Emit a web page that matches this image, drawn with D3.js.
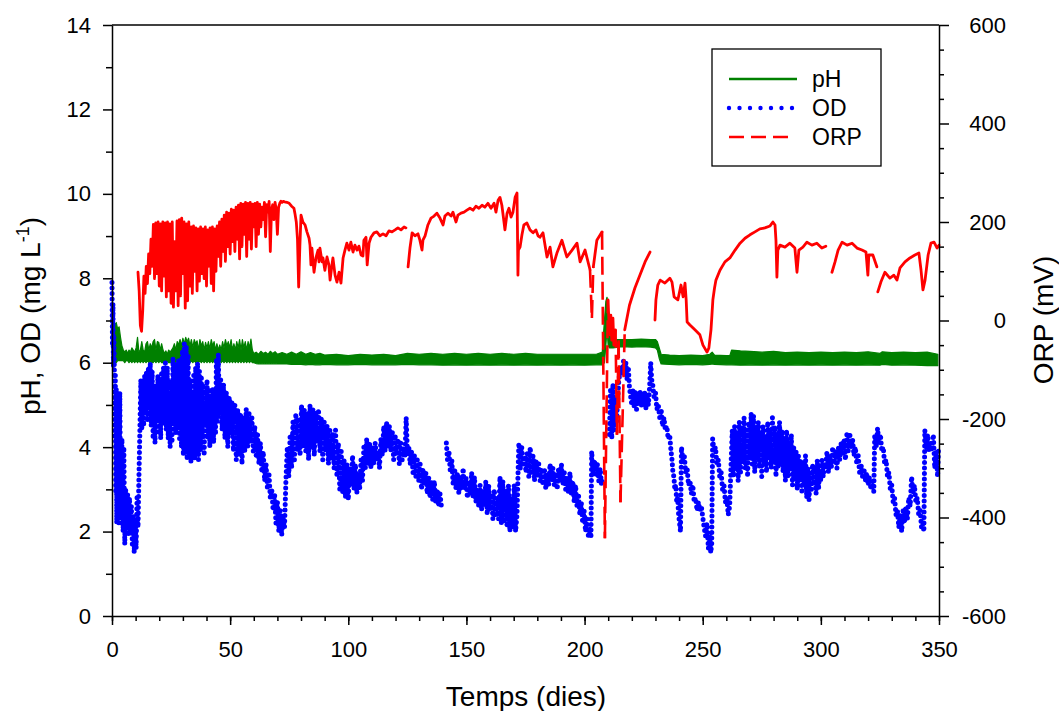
<!DOCTYPE html>
<html><head><meta charset="utf-8">
<script src="https://cdn.jsdelivr.net/npm/d3@7/dist/d3.min.js"></script>
<style>body{margin:0;background:#fff}svg{display:block;font-family:"Liberation Sans",Arial,sans-serif}</style>
</head><body><svg id="c" width="1059" height="711"></svg>
<script>
// ---------- tick labels ----------
const dayTicks = [0,50,100,150,200,250,300,350];
const leftTicks = [0,2,4,6,8,10,12,14];
const rightTicks = [-600,-400,-200,0,200,400,600];
const seriesNames = ["pH","OD","ORP"];

// ---------- pH : [day, min, max] (band of the noisy trace) ----------
const phData = [
[0.2,6.0,6.6],[0.6,6.0,7.0],[1.2,6.0,6.9],[1.8,6.0,6.95],[2.4,6.05,6.8],[3.0,6.05,6.85],[3.6,6.05,6.6],[4.2,6.05,6.4],[4.8,6.05,6.3],[5.4,6.0,6.25],[6.0,6.05,6.3],[6.6,6.05,6.22],[7.2,6.0,6.3],[7.8,6.05,6.25],[8.4,6.0,6.35],[9.0,6.05,6.3],[9.6,6.0,6.25],[10.2,6.05,6.35],[10.8,6.0,6.6],[11.4,6.05,6.25],[12.0,6.0,6.3],[12.6,6.05,6.5],[13.2,6.0,6.3],[13.8,6.05,6.25],[14.4,6.0,6.45],[15.0,6.05,6.5],[15.6,6.0,6.3],[16.2,6.05,6.45],[16.8,6.0,6.35],[17.4,6.0,6.5],[18.0,6.05,6.55],[18.6,6.0,6.3],[19.2,6.05,6.5],[19.8,6.0,6.48],[20.4,6.05,6.3],[21.0,6.0,6.45],[21.6,6.0,6.3],[22.2,6.05,6.22],[22.8,6.0,6.28],[23.4,6.05,6.2],[24.0,6.0,6.3],[24.6,6.0,6.25],[25.2,6.05,6.3],[25.8,6.0,6.35],[26.4,6.05,6.45],[27.0,6.0,6.3],[27.6,6.05,6.5],[28.2,6.0,6.42],[28.8,6.05,6.55],[29.4,6.0,6.4],[30.0,6.05,6.58],[30.6,6.0,6.45],[31.2,6.05,6.6],[31.8,6.0,6.5],[32.4,6.05,6.58],[33.0,6.0,6.4],[33.6,6.05,6.55],[34.2,6.0,6.35],[34.8,6.05,6.55],[35.4,6.0,6.45],[36.0,6.05,6.52],[36.6,6.0,6.3],[37.2,6.05,6.55],[37.8,6.0,6.4],[38.4,6.05,6.5],[39.0,6.0,6.3],[39.6,6.05,6.48],[40.2,6.0,6.35],[40.8,6.05,6.5],[41.4,6.0,6.32],[42.0,6.05,6.55],[42.6,6.0,6.4],[43.2,6.05,6.5],[43.8,6.0,6.3],[44.4,6.05,6.45],[45.0,6.0,6.3],[45.6,6.05,6.42],[46.2,6.0,6.3],[46.8,6.05,6.5],[47.4,6.0,6.35],[48.0,6.05,6.55],[48.6,6.0,6.4],[49.2,6.05,6.5],[49.8,6.0,6.35],[50.4,6.05,6.55],[51.0,6.0,6.3],[51.6,6.05,6.45],[52.2,6.0,6.3],[52.8,6.05,6.5],[53.4,6.0,6.35],[54.0,6.05,6.55],[54.6,6.0,6.3],[55.2,6.05,6.55],[55.8,6.0,6.35],[56.4,6.05,6.5],[57.0,6.0,6.3],[57.6,6.05,6.5],[58.2,6.0,6.35],[58.8,6.05,6.56],[59.4,6.0,6.3],[60.0,6.0,6.22],[61,5.98,6.25],[62,5.97,6.2],[63,5.98,6.27],[64,5.97,6.22],[65,5.98,6.25],[66,5.97,6.2],[67,5.98,6.27],[68,5.97,6.22],[69,5.98,6.26],[70,5.97,6.2],[72,5.97,6.24],[74,5.97,6.2],[76,5.96,6.25],[78,5.96,6.2],[80,5.96,6.26],[82,5.95,6.2],[84,5.96,6.24],[86,5.95,6.2],[88,5.95,6.22],[90,5.96,6.18],[95,5.95,6.2],[100,5.95,6.17],[105,5.96,6.2],[110,5.95,6.18],[115,5.95,6.2],[120,5.95,6.17],[125,5.96,6.22],[130,5.95,6.2],[135,5.95,6.22],[140,5.94,6.2],[145,5.95,6.22],[150,5.94,6.2],[155,5.95,6.22],[160,5.94,6.2],[165,5.95,6.22],[170,5.94,6.2],[175,5.95,6.22],[180,5.94,6.2],[185,5.95,6.2],[190,5.94,6.2],[195,5.95,6.2],[200,5.94,6.2],[205,5.95,6.2],[207.5,5.95,6.25],[208.4,6.0,7.0],[209.0,6.4,7.45],[209.5,6.8,7.55],[210.0,6.4,7.3],[210.6,6.35,6.8],[211.3,6.35,6.55],[212,6.35,6.55],[216,6.38,6.55],[220,6.37,6.55],[224,6.38,6.56],[228,6.37,6.55],[230,6.35,6.55],[230.8,6.3,6.5],[231.6,6.1,6.35],[232.4,5.97,6.2],[236,5.96,6.18],[240,5.95,6.17],[245,5.96,6.18],[250,5.95,6.17],[253,5.96,6.2],[254,5.97,6.25],[255,5.96,6.18],[260,5.95,6.17],[261.5,5.95,6.17],[262.2,5.95,6.3],[266,5.94,6.28],[270,5.95,6.27],[275,5.94,6.25],[280,5.95,6.27],[285,5.94,6.24],[290,5.95,6.25],[295,5.94,6.24],[300,5.95,6.25],[305,5.94,6.24],[310,5.95,6.25],[315,5.94,6.24],[320,5.95,6.26],[325,5.94,6.22],[326,5.96,6.26],[330,5.94,6.24],[335,5.95,6.25],[340,5.94,6.24],[345,5.93,6.25],[349.5,5.93,6.2]
];

// ---------- OD (mg/L) : [day, value] ----------
const odData = [
[0,7.9],[0.2,6.4],[0.4,7.4],[0.6,5.9],[0.8,6.6],[1.0,5.8],[1.2,4.2],[1.4,5.7],[1.6,2.9],[1.8,5.4],[2.0,2.2],[2.2,5.0],[2.4,2.4],[2.6,4.4],[2.9,2.2],[3.3,5.3],[3.7,2.3],[4.2,4.2],[4.7,2.0],[5.0,4.0],[5.4,1.7],[5.8,3.0],[6.2,2.2],[6.6,2.9],[7.0,1.9],[7.4,2.8],[7.8,2.0],[8.2,2.6],[8.6,1.7],[9.0,2.4],[9.4,1.5],[9.8,2.3],[10.2,1.6],[10.6,2.8],[11.0,2.1],[11.4,3.3],[11.8,4.4],[12.2,5.6],
[12.6,4.4],[13.0,5.5],[13.4,4.5],[13.8,5.7],[14.2,4.8],[14.6,5.8],[15.0,4.6],[15.4,5.9],[15.8,4.9],[16.2,6.0],[16.6,4.5],[17.0,5.8],[17.4,4.2],[17.8,5.5],[18.2,4.1],[18.6,5.4],[19.0,4.6],[19.4,5.7],[19.8,4.3],[20.2,5.6],[20.6,4.2],[21.0,5.8],[21.4,4.5],[21.8,5.9],[22.2,4.6],[22.6,6.0],[23.0,4.4],[23.4,5.9],[23.8,4.2],[24.2,5.6],[24.6,4.0],[25.0,5.2],[25.4,4.1],[25.8,6.1],[26.2,4.6],[26.6,5.9],[27.0,4.3],[27.4,6.0],[27.8,4.5],[28.2,6.1],[28.6,4.2],[29.0,6.1],[29.4,4.0],[29.8,6.3],[30.2,3.8],[30.6,6.45],[31.0,3.9],[31.4,6.4],[31.8,3.7],[32.2,6.2],[32.6,3.8],[33.0,5.6],[33.4,3.65],[33.8,5.3],[34.2,3.9],[34.6,5.7],[35.0,3.7],[35.4,5.9],[35.8,3.8],[36.2,6.0],[36.6,3.7],[37.0,5.8],[37.4,3.9],[37.8,5.7],[38.2,4.3],[38.6,5.5],[39.0,3.8],[39.4,5.3],[39.8,4.5],[40.2,5.6],[40.6,4.2],[41.0,5.4],[41.4,4.0],[41.8,5.2],[42.2,4.4],[42.6,5.4],[43.0,4.1],[43.4,5.0],[43.8,4.3],[44.2,6.1],[44.6,4.6],[45.0,6.2],[45.4,4.8],
[46.0,5.6],[46.6,4.4],[47.2,5.5],[47.8,4.2],[48.4,5.3],[49.0,4.0],[49.6,5.2],[50.2,4.3],[50.8,5.1],[51.4,3.9],[52.0,5.0],[52.6,3.7],[53.2,4.9],[53.8,3.8],[54.4,4.8],[55.0,3.6],[55.6,4.7],[56.2,3.9],[56.8,4.9],[57.4,4.0],[58.0,4.8],[58.6,4.1],[59.2,4.7],[59.8,3.9],[60.4,4.5],[61.0,3.8],[61.6,4.3],[62.2,3.6],[62.8,4.1],[63.4,3.4],[64.0,3.9],[64.6,3.2],[65.2,3.6],[65.8,3.0],[66.4,3.4],[67.0,2.8],[67.6,3.0],[68.2,2.5],[68.8,2.9],[69.4,2.2],[70.0,2.7],[70.6,2.0],[71.2,2.5],[71.8,1.9],[72.4,2.4],[73.0,2.1],
[73.6,3.2],[74.2,4.0],[74.8,3.3],[75.4,4.3],[76.0,3.5],[76.6,4.6],[77.2,3.7],[77.8,4.8],[78.4,3.9],[79.0,4.7],[79.6,3.8],[80.2,5.0],[80.8,4.0],[81.4,4.9],[82.0,3.9],[82.6,4.8],[83.2,3.7],[83.8,5.0],[84.4,4.0],[85.0,4.9],[85.6,3.8],[86.2,4.8],[86.8,4.1],[87.4,4.9],[88.0,3.9],[88.6,4.7],[89.2,3.7],[89.8,4.6],[90.4,3.9],[91.0,4.5],[91.6,3.6],[92.2,4.4],[92.8,3.7],[93.4,4.3],[94.0,3.5],[94.6,4.4],[95.2,3.3],[95.8,4.1],[96.4,3.0],[97.0,3.9],[97.6,2.9],[98.2,3.7],[98.8,2.8],[99.4,3.6],[100.0,2.75],[100.6,3.5],
[101.2,3.1],[101.8,3.8],[102.4,3.0],[103.0,3.6],[103.6,2.9],[104.2,3.4],[104.8,3.0],[105.4,3.7],[106.0,3.2],[106.6,4.0],[107.2,3.5],[107.8,4.2],[108.4,3.6],[109.0,4.1],[109.6,3.5],[110.2,4.0],[110.8,3.6],[111.4,4.1],[112.0,3.7],[112.6,3.9],[113.2,3.5],[113.8,4.2],[114.4,3.8],[115.0,4.5],[115.6,3.9],[116.2,4.6],[116.8,4.0],[117.4,4.5],[118.0,3.9],[118.6,4.4],[119.2,3.7],[119.8,4.3],[120.4,3.8],[121.0,4.2],[121.6,3.6],[122.2,4.1],[122.8,3.7],[123.4,4.0],[124.0,3.8],[124.5,4.7],[125.0,3.9],[125.6,4.0],[126.2,3.6],[126.8,3.9],[127.4,3.4],[128.0,3.8],[128.6,3.3],[129.2,3.7],[129.8,3.2],[130.4,3.6],[131.0,3.0],[131.6,3.5],[132.2,3.1],[132.8,3.4],[133.4,2.9],[134.0,3.3],[134.6,2.8],[135.2,3.2],[135.8,2.7],[136.4,3.2],[137.0,2.7],[137.6,3.0],[138.2,2.6],[138.8,2.9],[139.4,2.6],null,
[141.5,4.1],[142.0,3.7],[142.6,3.9],[143.2,3.4],[143.8,3.7],[144.4,3.1],[145.0,3.5],[145.6,3.0],[146.2,3.4],[146.8,2.9],[147.4,3.3],[148.0,3.0],[148.6,3.5],[149.2,3.0],[149.8,3.3],[150.4,2.8],[151.0,3.2],[151.6,2.9],[152.2,3.4],[152.8,2.8],[153.4,3.3],[154.0,2.7],[154.6,3.0],[155.2,2.6],[155.8,3.1],[156.4,2.5],[157.0,3.0],[157.6,2.6],[158.2,3.2],[158.8,2.4],[159.4,3.1],[160.0,2.5],[160.6,2.9],[161.2,2.3],[161.8,3.0],[162.4,2.4],[163.0,2.8],[163.6,2.3],[164.2,3.3],[164.8,2.2],[165.4,3.2],[166.0,2.2],[166.6,3.0],[167.2,2.1],[167.8,3.1],[168.4,2.0],[169.0,2.8],[169.6,2.1],[170.2,3.1],[170.8,2.0],[171.4,2.4],
[171.8,3.3],[172.2,4.1],[172.8,3.5],[173.4,4.0],[174.0,3.6],[174.6,3.8],[175.2,3.4],[175.8,3.9],[176.4,3.3],[177.0,4.0],[177.6,3.4],[178.2,3.8],[178.8,3.2],[179.4,3.7],[180.0,3.3],[180.6,3.6],[181.2,3.2],[181.8,3.5],[182.4,3.1],[183.0,3.5],[183.6,3.0],[184.2,3.4],[184.8,3.1],[185.4,3.6],[186.0,3.2],[186.6,3.5],[187.2,3.1],[187.8,3.4],[188.4,3.0],[189.0,3.5],[189.6,3.2],[190.2,3.6],[190.8,3.1],[191.4,3.4],[192.0,3.0],[192.6,3.3],[193.2,2.9],[193.8,3.4],[194.4,2.9],[195.0,3.2],[195.6,2.7],[196.2,3.1],[196.8,2.6],[197.4,2.9],[198.0,2.4],[198.6,2.7],[199.2,2.2],[199.8,2.5],[200.4,2.0],[201.0,2.3],[201.6,1.9],[202.2,2.1],[202.7,1.85],[203.0,3.9],[203.6,3.4],[204.2,3.7],[204.8,3.3],[205.4,3.6],[206.0,3.2],[206.6,3.5],[207.2,3.1],[207.8,3.3],null,
[210.5,4.3],[211.0,5.4],[211.5,4.2],[212.0,5.5],[212.5,4.4],[213.0,5.2],[213.5,4.6],[214.5,5.6],[215.5,5.9],[216.0,5.7],[216.5,6.05],[217.0,5.7],[217.5,6.0],[218.0,5.6],[218.5,5.9],[219.0,5.4],[219.5,5.2],[220.0,5.0],[220.5,5.35],[221.0,4.95],[221.5,5.3],[222.0,4.9],[222.5,5.25],[223.0,5.0],[223.5,5.3],[224.0,4.95],[224.5,5.25],[225.0,5.0],[225.5,5.3],[226.0,4.9],[226.5,5.2],[227.0,5.0],[227.5,5.4],[228.0,6.0],[228.4,5.6],
[228.8,5.5],[229.4,5.2],[230.0,5.3],[230.6,4.9],[231.2,5.0],[231.8,4.7],[232.4,4.9],[233.0,4.5],[233.6,4.7],[234.2,4.4],[234.8,4.5],[235.4,4.2],[236.0,4.3],[236.6,3.9],[237.0,3.7],[237.4,3.4],[237.8,3.3],[238.2,3.0],[238.6,3.1],[239.0,2.7],[239.4,2.8],[239.8,2.4],[240.2,2.2],[240.6,2.0],[241.0,4.0],[241.6,3.7],[242.2,3.8],[242.8,3.4],[243.4,3.5],[244.0,3.1],[244.6,3.2],[245.2,2.9],[245.8,3.1],[246.4,2.7],[247.0,2.8],[247.6,2.5],[248.2,2.7],[248.8,2.5],[249.4,2.6],[250.0,2.35],[250.6,2.1],[251.2,1.9],[251.8,2.2],[252.4,1.6],[253.0,1.9],[253.4,1.5],[253.8,1.7],[254.2,4.2],[254.8,3.9],[255.4,4.0],[256.0,3.6],[256.6,3.7],[257.2,3.3],[257.8,3.4],[258.4,3.0],[259.0,3.1],[259.6,2.7],[260.2,2.8],[260.8,2.4],[261.4,2.6],
[262.0,3.6],[262.5,4.4],[263.0,3.3],[263.5,4.5],[264.0,3.5],[264.5,4.3],[265.0,3.2],[265.5,4.6],[266.0,3.4],[266.5,4.5],[267.0,3.6],[267.5,4.7],[268.0,3.5],[268.5,4.4],[269.0,3.3],[269.5,4.6],[270.0,3.7],[270.5,4.8],[271.0,3.6],[271.5,4.75],[272.0,3.4],[272.5,4.5],[273.0,3.8],[273.5,4.6],[274.0,3.5],[274.5,4.4],[275.0,3.3],[275.5,4.5],[276.0,3.6],[276.5,4.3],[277.0,3.4],[277.5,4.6],[278.0,3.7],[278.5,4.4],[279.0,3.5],[279.5,4.7],[280.0,3.6],[280.5,4.5],[281.0,3.3],[281.5,4.3],[282.0,3.5],[282.5,4.6],[283.0,3.6],[283.5,4.4],[284.0,3.4],[284.5,4.2],[285.0,3.2],[285.5,4.4],[286.0,3.3],[286.5,4.1],[287.0,3.5],[287.5,4.3],[288.0,3.1],[288.5,4.0],[289.0,3.3],[289.5,3.9],[290.0,3.0],[290.5,3.8],[291.0,3.2],[291.5,3.7],[292.0,2.9],[292.5,3.6],[293.0,3.1],[293.5,3.8],[294.0,2.8],[294.5,3.5],[295.0,2.75],[295.5,3.4],[296.0,3.0],[296.5,3.6],[297.0,3.1],[297.5,3.5],[298.0,2.9],[298.5,3.7],[299.0,3.0],[299.5,3.4],[300.0,3.2],[300.5,3.7],[301.0,3.3],[301.5,3.6],
[302.0,3.5],[302.6,3.9],[303.2,3.4],[303.8,3.8],[304.4,3.5],[305.0,4.0],[305.6,3.6],[306.2,3.9],[306.8,3.5],[307.4,4.0],[308.0,3.7],[308.6,4.1],[309.2,3.8],[309.8,4.2],[310.4,3.7],[311.0,4.3],[311.6,3.9],[312.2,4.34],[312.8,4.0],[313.4,4.2],[314.0,3.8],[314.6,4.0],[315.2,3.6],[315.8,3.8],[316.4,3.4],[317.0,3.6],[317.6,3.3],[318.2,3.5],[318.8,3.2],[319.4,3.4],[320.0,3.1],[320.6,3.3],[321.2,3.0],[321.8,3.2],[322.4,2.95],[322.8,4.3],[323.4,4.0],[324.0,4.45],[324.6,4.1],[325.2,4.3],[325.8,3.9],[326.4,4.0],[327.0,3.6],[327.6,3.7],[328.2,3.3],[328.8,3.4],[329.4,3.0],[330.0,3.1],[330.6,2.7],[331.2,2.8],[331.8,2.4],[332.4,2.5],[333.0,2.1],[333.6,2.4],[334.2,2.0],[334.8,2.5],[335.4,2.2],[336.0,2.6],[336.6,2.3],[337.2,2.8],[337.8,2.6],[338.4,3.3],[339.0,2.9],[339.6,3.1],[340.2,2.7],[340.8,2.8],[341.4,2.4],[342.0,2.5],[342.6,2.1],[343.2,2.2],[343.6,2.0],[344.0,4.4],[344.6,4.0],[345.2,4.3],[345.8,3.9],[346.4,4.1],[347.0,3.9],[347.6,4.3],[348.2,3.5],[348.8,3.9],[349.4,3.3],[349.8,4.0]
];

// ---------- ORP (mV) : [day, value] ----------
const orpData = [
[11.0,98],[11.5,60],[12.0,-10],[12.5,-22],[13.0,20],[13.5,90],[14.0,55],[14.5,110],[15.0,75],[15.5,135],[16.0,95],[16.5,165],[17.0,110],[17.5,195],[18.0,85],[18.5,198],[19.0,95],[19.5,200],[20.0,70],[20.5,196],[21.0,60],[21.5,200],[22.0,90],[22.5,198],[23.0,48],[23.5,200],[24.0,60],[24.5,196],[25.0,35],[25.5,200],[26.0,27],[26.5,160],[27.0,60],[27.5,202],[28.0,30],[28.5,205],[29.0,50],[29.5,208],[30.0,95],[30.5,200],[31.0,25],[31.5,196],[32.0,40],[32.5,200],[33.0,70],[33.5,190],[34.0,55],[34.5,192],[35.0,100],[35.5,188],[36.0,60],[36.5,186],[37.0,80],[37.5,190],[38.0,95],[38.5,186],[39.0,85],[39.5,190],[40.0,70],[40.5,184],[41.0,110],[41.5,188],[42.0,75],[42.5,190],[43.0,60],[43.5,186],[44.0,100],[44.5,192],[45.0,130],[45.5,200],[46.0,110],[46.5,206],[47.0,140],[47.5,214],[48.0,120],[48.5,220],[49.0,150],[49.5,218],[50.0,135],[50.5,226],[51.0,160],[51.5,224],[52.0,140],[52.5,230],[53.0,165],[53.5,234],[54.0,125],[54.5,238],[55.0,150],[55.5,236],[56.0,175],[56.5,240],[57.0,130],[57.5,238],[58.0,165],[58.5,240],[59.0,145],[59.5,236],[60.0,190],[60.5,238],[61.0,150],[61.5,240],[62.0,175],[62.5,236],[63.0,190],[63.5,230],[64.0,205],[64.5,240],[65.0,170],[65.5,235],[66.0,220],[66.5,242],[67.0,140],[67.5,225],[68.0,235],[68.5,205],[69.0,240],[69.5,225],[70.0,175],[70.5,230],[71.0,238],[71.5,242],[72.0,240],[72.5,242],[73.0,241],[74.0,240],[75.0,238],[76.0,232],[77.0,228],[77.5,215],[78.0,200],[78.5,165],[79.0,68],[79.5,150],[80.0,214],[80.8,200],[81.7,194],[82.5,180],[83.4,167],[83.8,153],[84.2,113],[84.6,147],[85.1,119],[85.5,98],[86.3,127],[87.2,143],[87.6,119],[88.0,147],[88.9,119],[89.3,127],[90.1,102],[91.0,129],[91.8,113],[92.3,82],[93.1,113],[93.5,127],[94.4,92],[95.2,78],[96.1,98],[96.9,76],[97.8,127],[98.6,143],[99.4,157],[100.3,143],[101.1,159],[102.0,139],[102.8,153],[103.7,143],[104.5,151],[105.4,133],[106.2,131],[106.6,163],[107.5,169],[108.0,113],[108.8,157],[109.6,169],[110.9,178],[112.1,180],[113.4,172],[114.7,176],[116.0,172],[117.2,182],[118.5,180],[119.8,184],[121.0,188],[122.3,184],[123.6,190],[124.4,188],null,
[125.3,109],[126.1,147],[127.0,178],[128.2,172],[129.5,176],[130.3,163],[131.2,143],[131.6,163],[132.5,172],[133.7,194],[135.0,208],[136.3,212],[137.5,218],[138.8,208],[140.1,194],[140.9,212],[142.2,218],[143.5,212],[144.3,220],[145.6,200],[146.4,214],[147.7,218],[149.0,220],[150.2,224],[151.5,228],[152.8,224],[154.0,232],[155.3,228],[156.6,234],[157.8,230],[159.1,238],[160.4,228],[161.7,238],[162.5,220],[163.4,244],[164.2,250],[165.0,234],[165.9,200],[166.3,184],[167.2,218],[168.0,228],[168.9,210],[169.7,220],[170.6,250],[171.4,259],[171.6,184],[171.8,92],[172.0,143],[172.7,149],[173.5,174],[174.3,194],[175.6,198],[176.9,184],[178.2,178],[179.4,184],[180.3,172],[181.1,169],[182.4,178],[184.1,129],[185.4,149],[186.6,109],[188.3,137],[190.4,163],[192.5,129],[194.7,143],[196.8,157],[198.1,119],[200.2,143],[202.3,103],[203.1,5],[203.7,109],[205.2,163],[207.4,180],[208.6,-442],[209.9,42],[210.3,0],[210.7,-29],[211.1,11],[211.5,-40],[212.0,5],[212.4,-50],[213.1,-19],[213.7,-232],[214.4,-40],[215.2,-369],[217.0,-19],[219.0,31],[221.3,66],[223.4,92],[225.6,119],[227.7,139],null,
[229.8,1],[230.2,42],[231.0,72],[232.0,82],[234.0,76],[236.1,86],[237.0,78],[237.9,48],[239.5,42],[240.8,72],[241.7,48],[242.5,76],[243.0,42],[243.4,-3],[244.6,-9],[246.7,-19],[248.8,-29],[250.1,-50],[251.8,-64],[252.6,-56],[253.5,-19],[253.9,11],[254.3,42],[255.0,66],[255.6,82],[257.3,102],[259.4,119],[261.5,127],[263.7,143],[265.8,157],[267.9,167],[270.0,174],[272.1,180],[274.2,186],[276.3,188],[278.5,192],[279.7,200],[280.6,194],[281.0,163],[281.4,88],[281.8,143],[282.7,153],[284.8,149],[286.9,157],[289.0,147],[289.9,98],[290.7,143],[292.4,149],[294.1,159],[296.2,153],[298.3,157],[300.4,147],[302.1,151],null,
[304.7,98],[306.0,119],[307.3,143],[309.0,159],[311.1,153],[313.2,157],[315.3,147],[317.4,143],[319.1,139],[319.9,92],[320.3,133],[322.0,133],[323.7,109],null,
[324.1,58],[325.4,78],[327.1,98],[329.2,86],[330.9,92],[332.2,82],[333.5,107],[335.6,119],[337.7,127],[339.8,133],[341.5,137],[342.4,102],[343.2,62],[344.1,82],[345.4,133],[346.6,157],[347.9,159],[349.2,147],[350.0,153]
];

// ---------- drawing ----------
const M = {l:112, r:939, t:25, b:616};
const svg = d3.select('#c');
const x = d3.scaleLinear().domain([0,350]).range([M.l, M.r]);
const yL = d3.scaleLinear().domain([0,14]).range([M.b, M.t]);
const yR = d3.scaleLinear().domain([-600,600]).range([M.b, M.t]);
const colors = {pH:'#008000', OD:'#0000ff', ORP:'#ff0000'};

const plot = svg.append('g');

// pH band
plot.append('path').datum(phData)
  .attr('d', d3.area().x(d=>x(d[0])).y0(d=>yL(d[1])).y1(d=>yL(d[2])))
  .attr('fill', colors.pH).attr('stroke', colors.pH).attr('stroke-width', 1.2)
  .attr('stroke-linejoin','round');

// OD dotted line
const odLine = d3.line().defined(d=>d!==null).x(d=>x(d[0])).y(d=>yL(d[1]));
plot.append('path').datum(odData).attr('d', odLine)
  .attr('fill','none').attr('stroke', colors.OD).attr('stroke-width', 5)
  .attr('stroke-linecap','round').attr('stroke-linejoin','round').attr('stroke-dasharray','0,5.5');

// ORP dashed line: long, sparsely sampled segments show dashes
const orpLine = d3.line().x(d=>x(d[0])).y(d=>yR(d[1]));
const runs = [], dashed = [];
let cur = [];
for (let i = 0; i < orpData.length; i++) {
  const p = orpData[i];
  if (!p) { if (cur.length > 1) runs.push(cur); cur = []; continue; }
  const q = i > 0 ? orpData[i-1] : null;
  if (q) {
    const len = Math.hypot(x(p[0]) - x(q[0]), yR(p[1]) - yR(q[1]));
    if (p[0] - q[0] >= 0.55 && len > 30) {
      if (cur.length > 1) runs.push(cur);
      dashed.push([q, p]);
      cur = [p];
      continue;
    }
  }
  cur.push(p);
}
if (cur.length > 1) runs.push(cur);
plot.selectAll('path.orp').data(runs).join('path').attr('class','orp')
  .attr('d', orpLine).attr('fill','none').attr('stroke', colors.ORP).attr('stroke-width', 2.8)
  .attr('stroke-linejoin','round').attr('stroke-linecap','round');
plot.selectAll('path.orpd').data(dashed).join('path').attr('class','orpd')
  .attr('d', orpLine).attr('fill','none').attr('stroke', colors.ORP).attr('stroke-width', 2.6)
  .attr('stroke-dasharray','18,7');

// ---------- axes ----------
const fmt = d => String(d);
function styleAxis(g, fs) {
  g.selectAll('path.domain').attr('stroke','#000').attr('stroke-width',1.5);
  g.selectAll('.tick line').attr('stroke','#000').attr('stroke-width',1.5);
  g.selectAll('.tick text').attr('fill','#000').style('font-size', fs+'px')
    .style('font-family','"Liberation Sans", Arial, sans-serif');
}
const axG = svg.append('g');
const bMinor = axG.append('g').attr('transform',`translate(0,${M.b})`)
  .call(d3.axisBottom(x).tickValues(d3.range(0,351,10)).tickSize(5).tickSizeOuter(0).tickFormat(''));
bMinor.select('path.domain').remove();
styleAxis(bMinor, 22);
const bMajor = axG.append('g').attr('transform',`translate(0,${M.b})`)
  .call(d3.axisBottom(x).tickValues(dayTicks).tickSize(9).tickSizeOuter(0).tickPadding(16).tickFormat(fmt));
styleAxis(bMajor, 22);
const lMinor = axG.append('g').attr('transform',`translate(${M.l},0)`)
  .call(d3.axisLeft(yL).tickValues(d3.range(1,14,2)).tickSize(6).tickSizeOuter(0).tickFormat(''));
lMinor.select('path.domain').remove();
styleAxis(lMinor, 22);
const lMajor = axG.append('g').attr('transform',`translate(${M.l},0)`)
  .call(d3.axisLeft(yL).tickValues(leftTicks).tickSize(9).tickSizeOuter(0).tickPadding(12).tickFormat(fmt));
styleAxis(lMajor, 22);
const rMinor = axG.append('g').attr('transform',`translate(${M.r},0)`)
  .call(d3.axisRight(yR).tickValues(d3.range(-550,600,50).filter(v=>v%200!==0)).tickSize(5).tickSizeOuter(0).tickFormat(''));
rMinor.select('path.domain').remove();
styleAxis(rMinor, 22);
const rMajor = axG.append('g').attr('transform',`translate(${M.r},0)`)
  .call(d3.axisRight(yR).tickValues(rightTicks).tickSize(10).tickSizeOuter(0).tickFormat(fmt));
styleAxis(rMajor, 22);
rMajor.selectAll('.tick text').attr('text-anchor','end').attr('x', 67);
axG.append('line').attr('x1',M.l).attr('x2',M.r).attr('y1',M.t).attr('y2',M.t)
  .attr('stroke','#000').attr('stroke-width',1.5);

// ---------- titles ----------
const tf = '"Liberation Sans", Arial, sans-serif';
svg.append('text').attr('x',526).attr('y',706).attr('text-anchor','middle')
  .style('font-family',tf).style('font-size','28px').text('Temps (dies)');
const lt = svg.append('text').attr('transform','translate(40,316) rotate(-90)').attr('text-anchor','middle')
  .style('font-family',tf).style('font-size','28px');
lt.append('tspan').text('pH, OD (mg L');
lt.append('tspan').attr('dy',-11).style('font-size','18px').text('-1');
lt.append('tspan').attr('dy',11).text(')');
svg.append('text').attr('transform','translate(1053,320) rotate(-90)').attr('text-anchor','middle')
  .style('font-family',tf).style('font-size','28px').text('ORP (mV)');

// ---------- legend ----------
const lg = svg.append('g');
lg.append('rect').attr('x',712).attr('y',49).attr('width',169).attr('height',117)
  .attr('fill','#fff').attr('stroke','#000').attr('stroke-width',1.3);
const legY = [79,108,137];
lg.append('line').attr('x1',729).attr('x2',797).attr('y1',legY[0]).attr('y2',legY[0])
  .attr('stroke',colors.pH).attr('stroke-width',2.5);
lg.append('line').attr('x1',729).attr('x2',797).attr('y1',legY[1]).attr('y2',legY[1])
  .attr('stroke',colors.OD).attr('stroke-width',4.4).attr('stroke-linecap','round').attr('stroke-dasharray','0,10.5');
lg.append('line').attr('x1',729).attr('x2',791).attr('y1',legY[2]).attr('y2',legY[2])
  .attr('stroke',colors.ORP).attr('stroke-width',2.5).attr('stroke-dasharray','15,7');
seriesNames.forEach((n,i)=>{
  lg.append('text').attr('x',812).attr('y',legY[i]).attr('dy','0.36em')
    .style('font-family',tf).style('font-size','23px').text(n);
});
</script>
</body></html>
